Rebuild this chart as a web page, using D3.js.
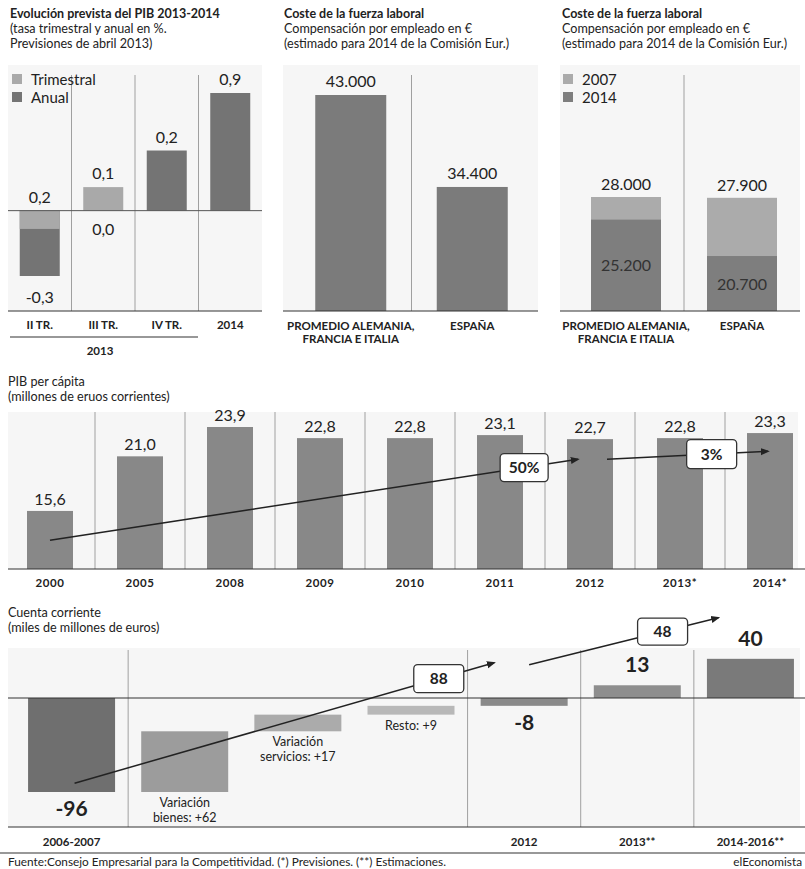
<!DOCTYPE html>
<html>
<head>
<meta charset="utf-8">
<script src="https://cdn.jsdelivr.net/npm/d3@7/dist/d3.min.js"></script>
<style>
body{margin:0;background:#fff;}
svg text{font-family:Lato,"Open Sans",sans-serif;fill:#222;}
.titulo{font-size:12.6px;}
.fuerte{font-weight:bold;font-size:12.5px;}
.cat{font-size:11.5px;font-weight:bold;text-anchor:middle;}
.valor{font-size:16px;text-anchor:middle;}
.grande{font-size:21px;font-weight:bold;text-anchor:middle;}
.leyenda{font-size:15px;}
.sep{stroke:#a0a0a0;stroke-width:1;}
.base{stroke:#333;stroke-width:1.2;}
.fondo{fill:#f6f6f6;}
.caja{fill:#fff;stroke:#333;stroke-width:1.3;}
.flecha{stroke:#222;stroke-width:1.5;}
</style>
</head>
<body>
<svg id="grafico"></svg>
<script>
// --- Evolución prevista del PIB 2013-2014
var pibCat = ["II TR.", "III TR.", "IV TR.", "2014"];
var pibAnual = [-0.3, 0.0, 0.2, 0.9];          // valores publicados
var pibTrimestral = [0.2, 0.1, null, null];
var pibAnualBarra = [-0.5, 0, 0.46, 0.9];
var pibTrimBarra = [-0.14, 0.18, 0, 0];

// --- Coste de la fuerza laboral
var costeCat = ["PROMEDIO ALEMANIA, FRANCIA E ITALIA", "ESPAÑA"];
var costeLineas = [["PROMEDIO ALEMANIA,", "FRANCIA E ITALIA"], ["ESPAÑA"]];
var coste2014 = [43000, 34400];
var costeAnt2007 = [28000, 27900];
var costeAnt2014 = [25200, 20700];

// --- PIB per cápita
var anios = ["2000", "2005", "2008", "2009", "2010", "2011", "2012", "2013*", "2014*"];
var pibPerCapita = [15.6, 21.0, 23.9, 22.8, 22.8, 23.1, 22.7, 22.8, 23.3];
var pibFlechas = ["50%", "3%"];

// --- Cuenta corriente
var cuentaCat = ["2006-2007", "bienes", "servicios", "resto", "2012", "2013**", "2014-2016**"];
var cuentaSaldo = {"2006-2007": -96, "2012": -8, "2013**": 13, "2014-2016**": 40};
var variaciones = [62, 17, 9];
var variacionTxt = [["Variación", "bienes: +62"], ["Variación", "servicios: +17"], ["Resto: +9"]];
var cuentaFlechas = ["88", "48"];

var es = d3.formatLocale({decimal: ",", thousands: ".", grouping: [3], currency: ["", " €"], minus: "-"});
var fmt1 = es.format(".1f"), fmtMiles = es.format(",");

var width = 805, height = 869;
var svg = d3.select("#grafico").attr("width", width).attr("height", height);

svg.append("defs").append("marker")
    .attr("id", "punta").attr("viewBox", "0 0 10 10")
    .attr("refX", 8).attr("refY", 5)
    .attr("markerWidth", 6).attr("markerHeight", 6)
    .attr("orient", "auto")
  .append("path").attr("d", "M0,1L10,5L0,9Z").attr("fill", "#222");

function titulo(x, y, lineas, negrita) {
    lineas.forEach(function(l, i) {
        svg.append("text").attr("class", "titulo" + (i == 0 && negrita ? " fuerte" : ""))
            .attr("x", x).attr("y", y + i * 15.2).text(l);
    });
}

function flecha(x1, y1, x2, y2, t, txt, w, h) {
    svg.append("line").attr("class", "flecha")
        .attr("x1", x1).attr("y1", y1).attr("x2", x2).attr("y2", y2)
        .attr("marker-end", "url(#punta)");
    var cx = x1 + (x2 - x1) * t, cy = y1 + (y2 - y1) * t;
    svg.append("rect").attr("class", "caja")
        .attr("x", cx - w / 2).attr("y", cy - h / 2)
        .attr("width", w).attr("height", h).attr("rx", 4);
    svg.append("text").attr("x", cx).attr("y", cy + 5.5)
        .attr("text-anchor", "middle").style("font-size", "15.5px").style("font-weight", "bold")
        .text(txt);
}

// ================= Panel 1
titulo(10, 18, ["Evolución prevista del PIB 2013-2014", "(tasa trimestral y anual en %.", "Previsiones de abril 2013)"], true);
var x1 = d3.scaleBand().domain(pibCat).range([8, 262]);
var y1 = d3.scaleLinear().domain([-0.5, 0.9]).range([276, 93]);
svg.append("rect").attr("class", "fondo").attr("x", 8).attr("y", 65).attr("width", 254).attr("height", 246);
pibCat.slice(1).forEach(function(c) {
    svg.append("line").attr("class", "sep").attr("x1", x1(c)).attr("x2", x1(c)).attr("y1", 75).attr("y2", 311);
});
var bw1 = 40;
svg.selectAll(".anual").data(pibAnualBarra).enter().append("rect")
    .attr("x", function(d, i) { return x1(pibCat[i]) + x1.bandwidth() / 2 - bw1 / 2; })
    .attr("y", function(d) { return Math.min(y1(d), y1(0)); })
    .attr("width", bw1)
    .attr("height", function(d) { return Math.abs(y1(d) - y1(0)); })
    .attr("fill", "#747474");
svg.selectAll(".trim").data(pibTrimBarra).enter().append("rect")
    .attr("x", function(d, i) { return x1(pibCat[i]) + x1.bandwidth() / 2 - bw1 / 2; })
    .attr("y", function(d) { return Math.min(y1(d), y1(0)); })
    .attr("width", bw1)
    .attr("height", function(d) { return Math.abs(y1(d) - y1(0)); })
    .attr("fill", "#a9a9a9");
svg.append("line").attr("x1", 8).attr("x2", 262).attr("y1", y1(0)).attr("y2", y1(0)).attr("stroke", "#555");
pibAnual.forEach(function(v, i) {
    var b = pibAnualBarra[i], yy;
    if (b > 0) yy = y1(b) - 8; else if (b < 0) yy = y1(b) + 27; else yy = y1(0) + 24;
    svg.append("text").attr("class", "valor").attr("x", x1(pibCat[i]) + x1.bandwidth() / 2).attr("y", yy).text(fmt1(v));
});
pibTrimestral.forEach(function(v, i) {
    if (v === null) return;
    svg.append("text").attr("class", "valor").attr("x", x1(pibCat[i]) + x1.bandwidth() / 2)
        .attr("y", Math.min(y1(0), y1(pibTrimBarra[i])) - 8).text(fmt1(v));
});
[["Trimestral", "#a9a9a9"], ["Anual", "#747474"]].forEach(function(l, i) {
    svg.append("rect").attr("x", 12).attr("y", 74 + i * 18).attr("width", 10).attr("height", 10).attr("fill", l[1]);
    svg.append("text").attr("class", "leyenda").attr("x", 31).attr("y", 85 + i * 18).text(l[0]);
});
svg.append("line").attr("class", "base").attr("x1", 8).attr("x2", 262).attr("y1", 311).attr("y2", 311);
pibCat.forEach(function(c) {
    svg.append("text").attr("class", "cat").attr("x", x1(c) + x1.bandwidth() / 2).attr("y", 329).text(c);
});
svg.append("line").attr("class", "base").attr("x1", 10).attr("x2", 198).attr("y1", 337).attr("y2", 337);
svg.append("text").attr("class", "cat").attr("x", 100).attr("y", 355).text("2013");

// ================= Panel 2
titulo(284, 18, ["Coste de la fuerza laboral", "Compensación por empleado en €", "(estimado para 2014 de la Comisión Eur.)"], true);
var x2 = d3.scaleBand().domain(costeCat).range([290, 533]);
var y2 = d3.scaleLinear().domain([22800, 43000]).range([311, 95]);
svg.append("rect").attr("class", "fondo").attr("x", 283).attr("y", 65).attr("width", 255).attr("height", 246);
svg.append("line").attr("class", "sep").attr("x1", x2(costeCat[1])).attr("x2", x2(costeCat[1])).attr("y1", 75).attr("y2", 311);
var bw2 = 71;
svg.selectAll(".coste").data(coste2014).enter().append("rect")
    .attr("x", function(d, i) { return x2(costeCat[i]) + x2.bandwidth() / 2 - bw2 / 2; })
    .attr("y", function(d) { return y2(d); })
    .attr("width", bw2)
    .attr("height", function(d) { return 311 - y2(d); })
    .attr("fill", "#7b7b7b");
coste2014.forEach(function(v, i) {
    svg.append("text").attr("class", "valor").attr("x", x2(costeCat[i]) + x2.bandwidth() / 2).attr("y", y2(v) - 8).text(fmtMiles(v));
});
svg.append("line").attr("class", "base").attr("x1", 283).attr("x2", 538).attr("y1", 311).attr("y2", 311);
costeLineas.forEach(function(ls, i) {
    ls.forEach(function(l, j) {
        svg.append("text").attr("class", "cat").attr("x", x2(costeCat[i]) + x2.bandwidth() / 2).attr("y", 330 + j * 13).text(l);
    });
});

// ================= Panel 3
titulo(562, 18, ["Coste de la fuerza laboral", "Compensación por empleado en €", "(estimado para 2014 de la Comisión Eur.)"], true);
var x3 = d3.scaleBand().domain(costeCat).range([568, 800]);
var y3 = d3.scaleLinear().domain([13900, 28000]).range([311, 197]);
svg.append("rect").attr("class", "fondo").attr("x", 560).attr("y", 65).attr("width", 240).attr("height", 246);
svg.append("line").attr("class", "sep").attr("x1", x3(costeCat[1])).attr("x2", x3(costeCat[1])).attr("y1", 75).attr("y2", 311);
var bw3 = 70;
svg.selectAll(".c07").data(costeAnt2007).enter().append("rect")
    .attr("x", function(d, i) { return x3(costeCat[i]) + x3.bandwidth() / 2 - bw3 / 2; })
    .attr("y", function(d) { return y3(d); })
    .attr("width", bw3)
    .attr("height", function(d) { return 311 - y3(d); })
    .attr("fill", "#ababab");
svg.selectAll(".c14").data(costeAnt2014).enter().append("rect")
    .attr("x", function(d, i) { return x3(costeCat[i]) + x3.bandwidth() / 2 - bw3 / 2; })
    .attr("y", function(d) { return y3(d); })
    .attr("width", bw3)
    .attr("height", function(d) { return 311 - y3(d); })
    .attr("fill", "#7e7e7e");
costeAnt2007.forEach(function(v, i) {
    var cx = x3(costeCat[i]) + x3.bandwidth() / 2;
    svg.append("text").attr("class", "valor").attr("x", cx).attr("y", y3(v) - 7).text(fmtMiles(v));
    var w = costeAnt2014[i];
    svg.append("text").attr("class", "valor").attr("x", cx).attr("y", (y3(w) + 311) / 2 + 6)
        .style("fill", "#333").text(fmtMiles(w));
});
[["2007", "#ababab"], ["2014", "#7e7e7e"]].forEach(function(l, i) {
    svg.append("rect").attr("x", 563).attr("y", 74 + i * 18).attr("width", 10).attr("height", 10).attr("fill", l[1]);
    svg.append("text").attr("class", "leyenda").attr("x", 582).attr("y", 85 + i * 18).text(l[0]);
});
svg.append("line").attr("class", "base").attr("x1", 560).attr("x2", 800).attr("y1", 311).attr("y2", 311);
costeLineas.forEach(function(ls, i) {
    ls.forEach(function(l, j) {
        svg.append("text").attr("class", "cat").attr("x", x3(costeCat[i]) + x3.bandwidth() / 2).attr("y", 330 + j * 13).text(l);
    });
});

// ================= Panel 4
titulo(8, 386, ["PIB per cápita", "(millones de eruos corrientes)"], false);
var x4 = d3.scaleBand().domain(anios).range([5, 815]);
var y4 = d3.scaleLinear().domain([9.86, 23.9]).range([569, 427]);
svg.append("rect").attr("class", "fondo").attr("x", 8).attr("y", 412).attr("width", 790).attr("height", 157);
anios.slice(1).forEach(function(a) {
    svg.append("line").attr("class", "sep").attr("x1", x4(a)).attr("x2", x4(a)).attr("y1", 412).attr("y2", 569);
});
var bw4 = 46;
function cx4(a) { return x4(a) + x4.bandwidth() / 2; }
svg.selectAll(".pc").data(pibPerCapita).enter().append("rect")
    .attr("x", function(d, i) { return cx4(anios[i]) - bw4 / 2; })
    .attr("y", function(d) { return y4(d); })
    .attr("width", bw4)
    .attr("height", function(d) { return 569 - y4(d); })
    .attr("fill", "#888");
pibPerCapita.forEach(function(v, i) {
    svg.append("text").attr("class", "valor").attr("x", cx4(anios[i])).attr("y", y4(v) - 6).text(fmt1(v));
});
svg.append("line").attr("class", "base").attr("x1", 8).attr("x2", 805).attr("y1", 569).attr("y2", 569);
anios.forEach(function(a) {
    svg.append("text").attr("class", "cat").style("letter-spacing", "0.6px").attr("x", cx4(a)).attr("y", 587).text(a);
});
flecha(cx4("2000"), y4(12.7), cx4("2012") - 12, y4(20.7), 0.898, pibFlechas[0], 48, 28);
flecha(cx4("2012") + 17, y4(20.7), cx4("2014*") - 2, y4(21.5), 0.65, pibFlechas[1], 50, 29);

// ================= Panel 5
titulo(8, 617, ["Cuenta corriente", "(miles de millones de euros)"], false);
var x5 = d3.scaleBand().domain(cuentaCat).range([15, 807]);
var y5 = d3.scaleLinear().domain([-96, 0]).range([792, 698]);
function cx5(c) { return x5(c) + x5.bandwidth() / 2; }
svg.append("rect").attr("class", "fondo").attr("x", 8).attr("y", 648).attr("width", 792).attr("height", 179);
["bienes", "2012", "2013**", "2014-2016**"].forEach(function(c) {
    svg.append("line").attr("class", "sep").attr("x1", x5(c)).attr("x2", x5(c)).attr("y1", 650).attr("y2", 827);
});
var bw5 = 87;
var saldos = ["2006-2007", "2012", "2013**", "2014-2016**"];
var colSaldo = ["#6f6f6f", "#8a8a8a", "#8e8e8e", "#7a7a7a"];
svg.selectAll(".saldo").data(saldos).enter().append("rect")
    .attr("x", function(c) { return cx5(c) - bw5 / 2; })
    .attr("y", function(c) { return Math.min(y5(cuentaSaldo[c]), y5(0)); })
    .attr("width", bw5)
    .attr("height", function(c) { return Math.abs(y5(cuentaSaldo[c]) - y5(0)); })
    .attr("fill", function(c, i) { return colSaldo[i]; });
var acum = cuentaSaldo["2006-2007"];
var colVar = ["#9c9c9c", "#ababab", "#b8b8b8"];
variaciones.forEach(function(v, i) {
    var c = cuentaCat[i + 1], desde = acum, hasta = acum + v;
    acum = hasta;
    svg.append("rect").attr("x", cx5(c) - bw5 / 2).attr("y", y5(hasta))
        .attr("width", bw5).attr("height", y5(desde) - y5(hasta)).attr("fill", colVar[i]);
    variacionTxt[i].forEach(function(l, j) {
        svg.append("text").attr("x", cx5(c)).attr("y", y5(desde) + 15 + j * 15.2)
            .attr("text-anchor", "middle").style("font-size", "12.5px").text(l);
    });
});
svg.append("line").attr("x1", 8).attr("x2", 805).attr("y1", y5(0)).attr("y2", y5(0)).attr("stroke", "#333").attr("stroke-width", 1.2);
saldos.forEach(function(c) {
    var v = cuentaSaldo[c];
    svg.append("text").attr("class", "grande").attr("x", cx5(c))
        .attr("y", v < 0 ? y5(v) + 24 : y5(v) - 13).text(v);
});
svg.append("line").attr("class", "base").attr("x1", 8).attr("x2", 805).attr("y1", 827).attr("y2", 827);
saldos.forEach(function(c) {
    svg.append("text").attr("class", "cat").attr("x", cx5(c)).attr("y", 846).text(c);
});
flecha(cx5("2006-2007") + 3, y5(-87), cx5("2012") - 30, y5(36), 0.868, cuentaFlechas[0], 50, 28);
flecha(cx5("2012") + 5, y5(34), cx5("2014-2016**") - 32, y5(82), 0.705, cuentaFlechas[1], 50, 27);

// ================= Pie
svg.append("line").attr("class", "base").attr("x1", 0).attr("x2", 805).attr("y1", 853).attr("y2", 853);
svg.append("text").attr("x", 8).attr("y", 866).style("font-size", "11.8px")
    .text("Fuente:Consejo Empresarial para la Competitividad. (*) Previsiones. (**) Estimaciones.");
svg.append("text").attr("x", 802).attr("y", 866).attr("text-anchor", "end").style("font-size", "11.8px").text("elEconomista");
</script>
</body>
</html>
